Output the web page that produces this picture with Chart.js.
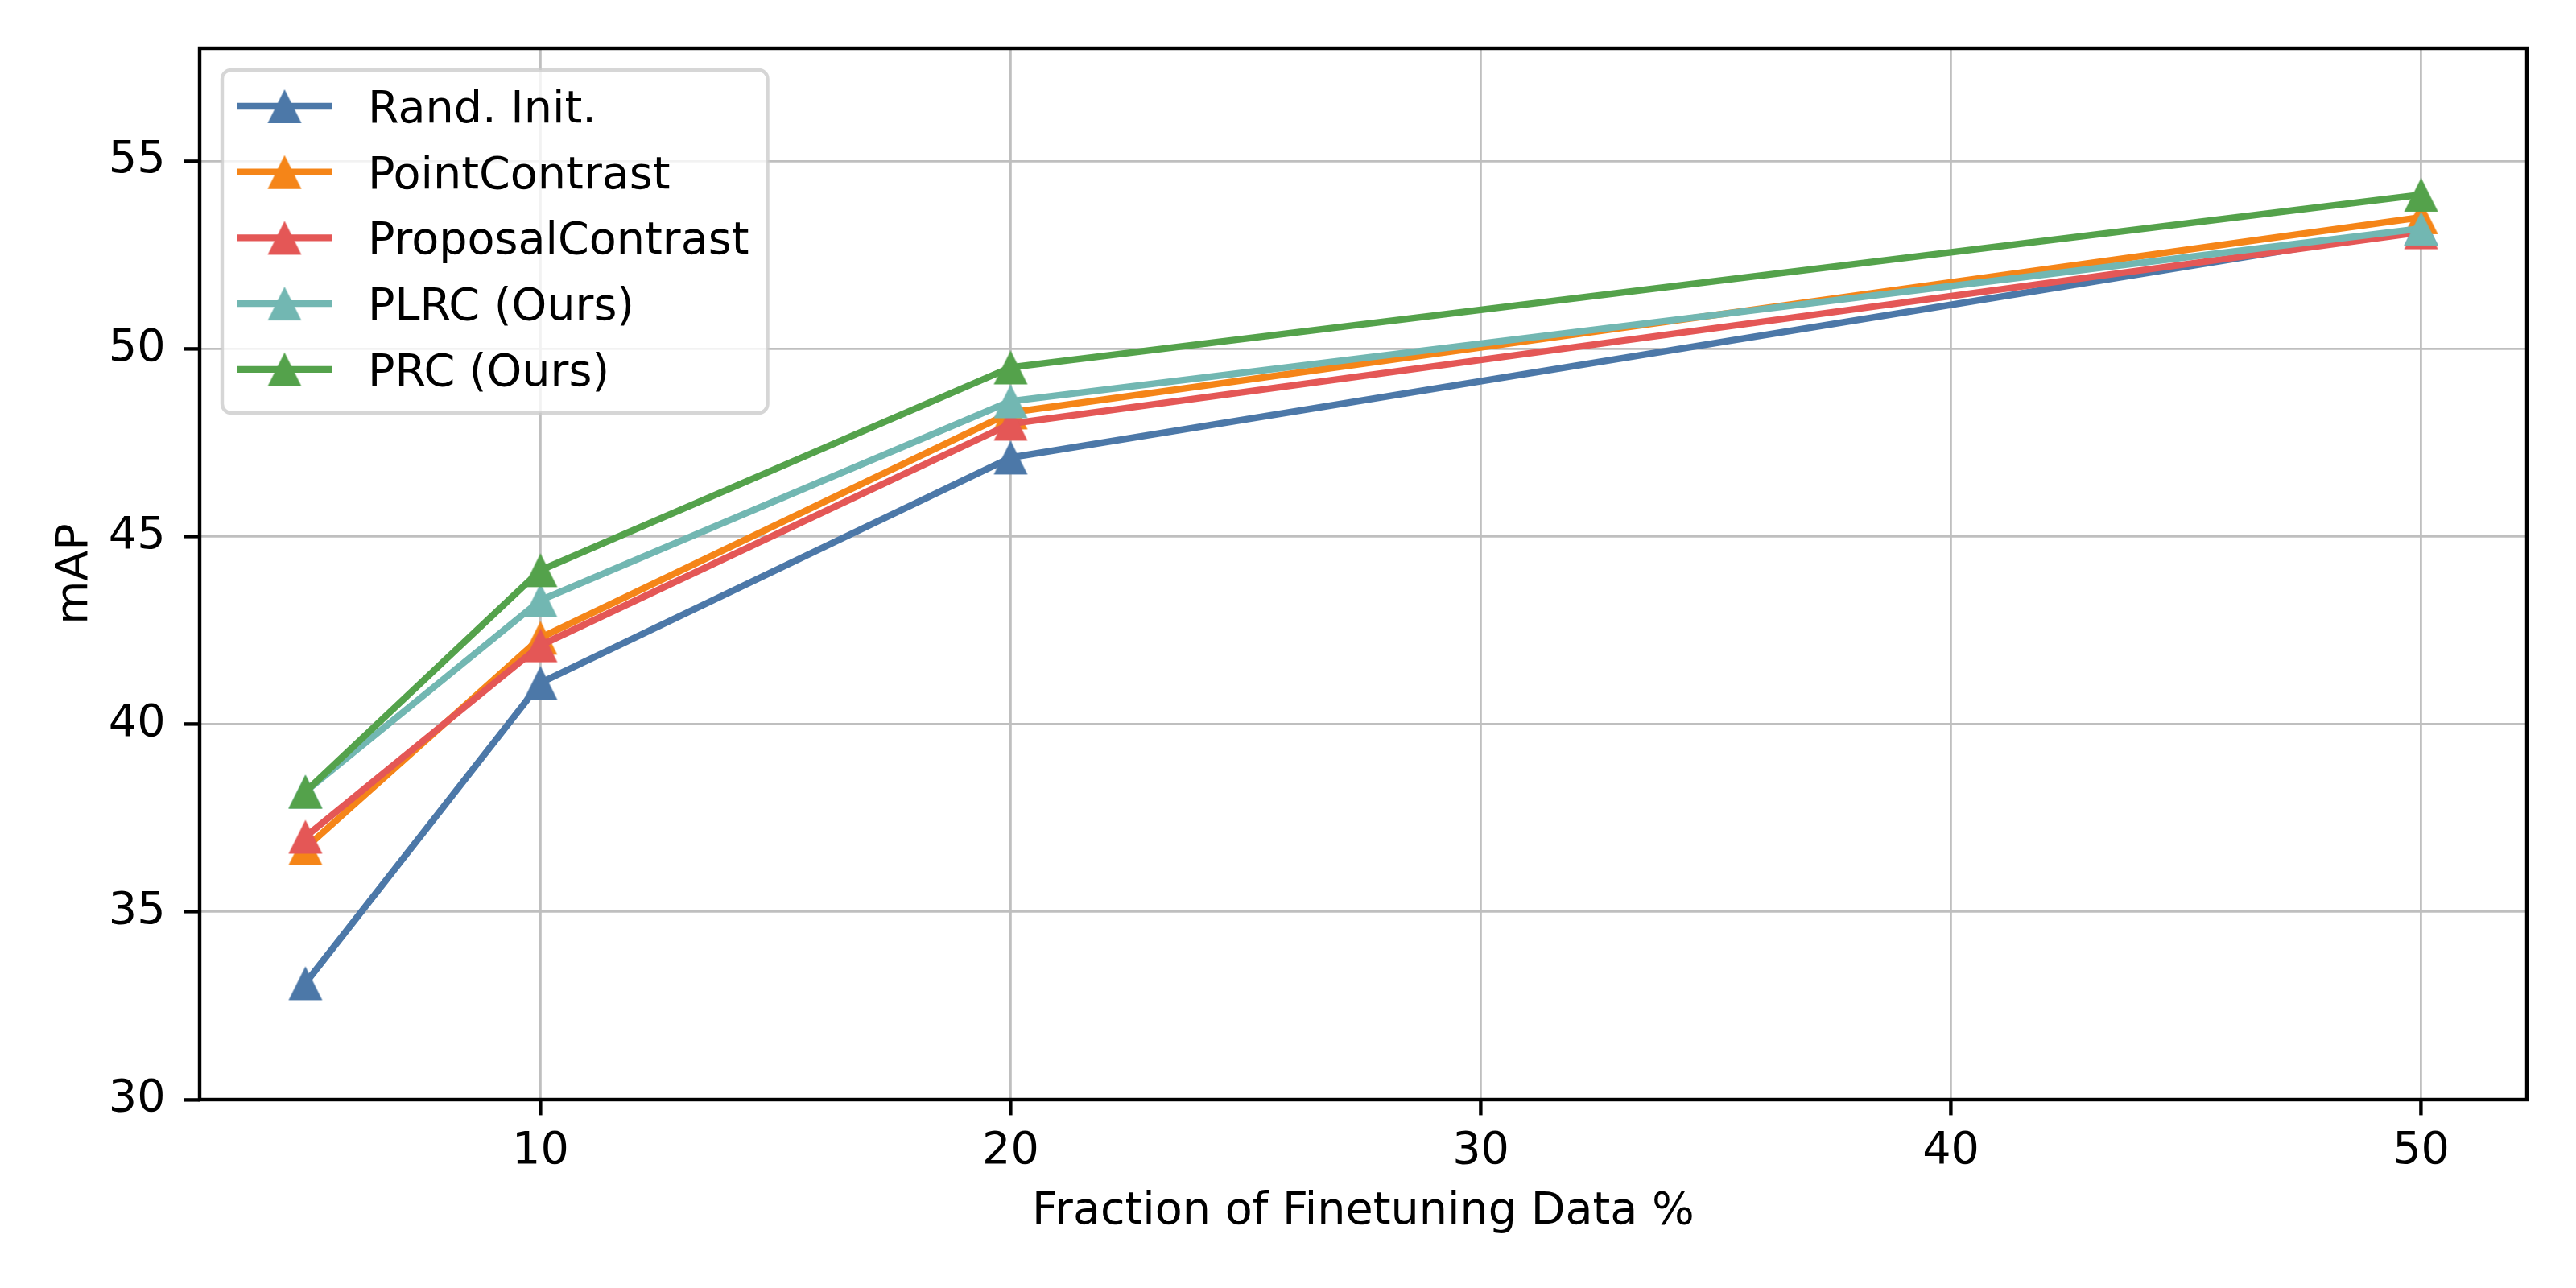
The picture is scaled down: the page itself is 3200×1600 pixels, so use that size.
<!DOCTYPE html>
<html>
<head>
<meta charset="utf-8">
<script src="https://cdn.jsdelivr.net/npm/chart.js@4"></script>
<style>
  html, body { margin: 0; padding: 0; background: #ffffff; }
  canvas { display: block; }
</style>
</head>
<body>
<canvas id="c" width="3200" height="1600"></canvas>
<script>
// ---- data ----
const fractions = [5, 10, 20, 50];
const seriesLabels = ['Rand. Init.', 'PointContrast', 'ProposalContrast', 'PLRC (Ours)', 'PRC (Ours)'];
const randInit = [33.1, 41.1, 47.1, 53.2];
const pointContrast = [36.7, 42.3, 48.3, 53.5];
const proposalContrast = [37.0, 42.1, 48.0, 53.1];
const plrc = [38.2, 43.3, 48.6, 53.2];
const prc = [38.2, 44.1, 49.5, 54.1];
const xTicks = [10, 20, 30, 40, 50];
const yTicks = [30, 35, 40, 45, 50, 55];
const xTitle = 'Fraction of Finetuning Data %';
const yTitle = 'mAP';

// ---- styles ----
const colors = ['#4c78a8', '#f58518', '#e45756', '#72b7b2', '#54a24b'];
const FONT = 'DejaVu Sans';
const FS = 55.6;

function triangleCanvas(color) {
  const c = document.createElement('canvas');
  c.width = 44; c.height = 44;
  const g = c.getContext('2d');
  g.fillStyle = color;
  g.beginPath();
  g.moveTo(22, 1);
  g.lineTo(43, 43);
  g.lineTo(1, 43);
  g.closePath();
  g.fill();
  return c;
}
const markers = colors.map(triangleCanvas);

const allSeries = [randInit, pointContrast, proposalContrast, plrc, prc];
const datasets = allSeries.map((vals, i) => ({
  label: seriesLabels[i],
  data: fractions.map((x, j) => ({ x: x, y: vals[j] })),
  borderColor: colors[i],
  backgroundColor: colors[i],
  borderWidth: 8.3,
  borderJoinStyle: 'round',
  borderCapStyle: 'square',
  pointStyle: markers[i],
  pointRadius: 10,
  pointHoverRadius: 10,
  tension: 0,
  fill: false,
  order: allSeries.length - 1 - i
}));

const framePlugin = {
  id: 'frame',
  afterDatasetsDraw(chart) {
    const a = chart.chartArea, ctx = chart.ctx;
    ctx.save();
    ctx.strokeStyle = '#000000';
    ctx.lineWidth = 4.4;
    ctx.lineJoin = 'miter';
    ctx.strokeRect(a.left, a.top, a.right - a.left, a.bottom - a.top);
    ctx.restore();
  }
};

const legendPlugin = {
  id: 'innerLegend',
  afterDraw(chart) {
    const a = chart.chartArea, ctx = chart.ctx;
    ctx.save();
    ctx.font = FS + 'px "' + FONT + '"';
    let maxW = 0;
    chart.data.datasets.forEach(d => { maxW = Math.max(maxW, ctx.measureText(d.label).width); });
    const left = a.left + 28, top = a.top + 27;
    const rowH = 81.7;
    const n = chart.data.datasets.length;
    const w = 181 + maxW + 23;
    const h = 45 + (n - 1) * rowH + 54;
    const r = 11;
    ctx.beginPath();
    ctx.moveTo(left + r, top);
    ctx.arcTo(left + w, top, left + w, top + h, r);
    ctx.arcTo(left + w, top + h, left, top + h, r);
    ctx.arcTo(left, top + h, left, top, r);
    ctx.arcTo(left, top, left + w, top, r);
    ctx.closePath();
    ctx.fillStyle = 'rgba(255,255,255,0.8)';
    ctx.fill();
    ctx.strokeStyle = 'rgba(204,204,204,0.8)';
    ctx.lineWidth = 4.4;
    ctx.stroke();
    chart.data.datasets.forEach((d, i) => {
      const cy = top + 45 + i * rowH;
      ctx.strokeStyle = d.borderColor;
      ctx.lineWidth = 8.3;
      ctx.lineCap = 'butt';
      ctx.beginPath();
      ctx.moveTo(left + 18, cy);
      ctx.lineTo(left + 137, cy);
      ctx.stroke();
      const m = d.pointStyle;
      ctx.drawImage(m, left + 77.5 - m.width / 2, cy - m.height / 2);
      ctx.fillStyle = '#000000';
      ctx.textBaseline = 'alphabetic';
      ctx.textAlign = 'left';
      ctx.fillText(d.label, left + 181, cy + 20);
    });
    ctx.restore();
  }
};

new Chart(document.getElementById('c'), {
  type: 'line',
  data: { datasets: datasets },
  options: {
    responsive: false,
    devicePixelRatio: 1,
    animation: false,
    events: [],
    layout: { padding: { top: 60, right: 61, left: 0, bottom: 0 } },
    plugins: { legend: { display: false }, tooltip: { enabled: false } },
    scales: {
      x: {
        type: 'linear',
        min: 2.75,
        max: 52.25,
        afterFit(s) { s.height = 234; },
        afterBuildTicks(s) { s.ticks = xTicks.map(v => ({ value: v })); },
        border: { display: false },
        grid: { color: '#bfbfbf', lineWidth: 2.8, drawTicks: true, tickLength: 19.4, tickColor: '#000000', tickWidth: 4.4 },
        ticks: { color: '#000000', font: { family: FONT, size: FS }, padding: 12, maxRotation: 0, autoSkip: false },
        title: { display: true, text: xTitle, color: '#000000', font: { family: FONT, size: FS }, padding: { top: 0, bottom: 61 } }
      },
      y: {
        type: 'linear',
        min: 30,
        max: 58,
        afterFit(s) { s.width = 248; },
        afterBuildTicks(s) { s.ticks = yTicks.map(v => ({ value: v })); },
        border: { display: false },
        grid: { color: '#bfbfbf', lineWidth: 2.8, drawTicks: true, tickLength: 19.4, tickColor: '#000000', tickWidth: 4.4 },
        ticks: { color: '#000000', font: { family: FONT, size: FS }, padding: 23, autoSkip: false },
        title: { display: true, text: yTitle, color: '#000000', font: { family: FONT, size: FS }, padding: { top: 60, bottom: 0 } }
      }
    }
  },
  plugins: [framePlugin, legendPlugin]
});
</script>
</body>
</html>
